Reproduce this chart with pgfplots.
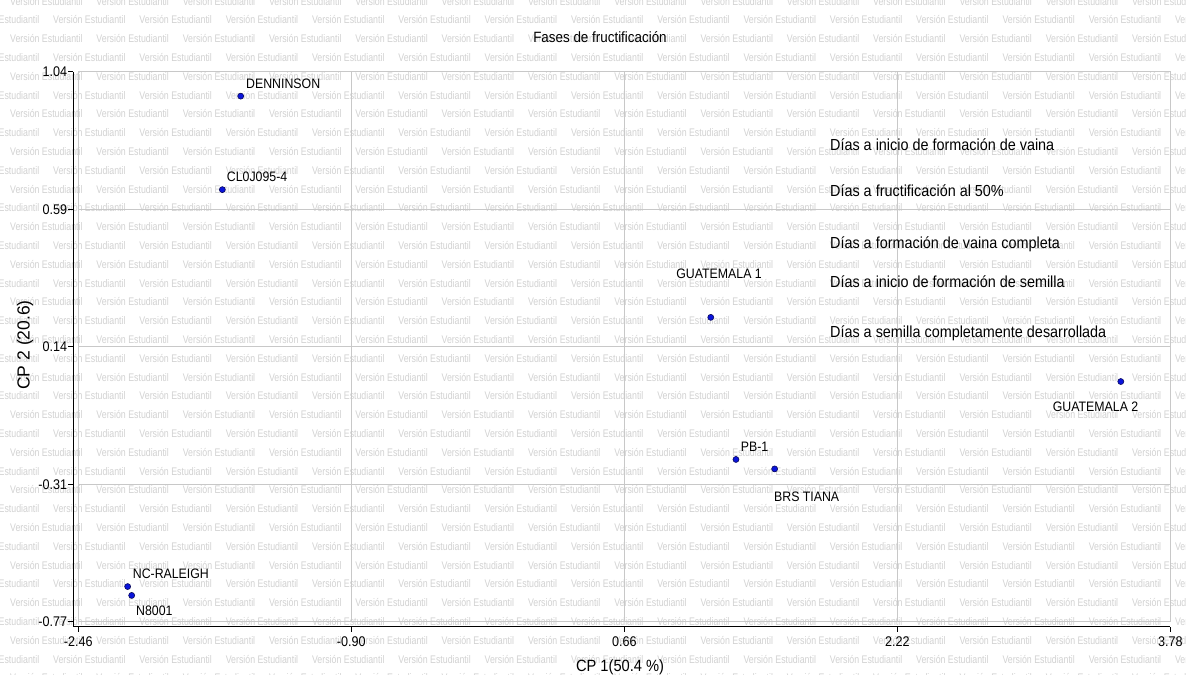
\documentclass[border=0pt]{standalone}
\usepackage{pgfplots}
\pgfplotsset{compat=1.18}
\usepackage{fontspec}
\setmainfont{Liberation Sans}
\newfontfamily\nar{Liberation Sans}[FakeStretch=0.9]
\newfontfamily\wmf{Liberation Sans}[FakeStretch=0.8]
\definecolor{wmgray}{RGB}{210,210,210}
\definecolor{gridgray}{RGB}{200,200,200}
\definecolor{markblue}{RGB}{10,20,220}
\definecolor{markedge}{RGB}{10,10,90}
\begin{document}
\begin{tikzpicture}
\useasboundingbox (0bp,0bp) rectangle (1186bp,675bp);
\fill[white] (0bp,0bp) rectangle (1186bp,675bp);
% watermark
\begin{scope}
\clip (0bp,0bp) rectangle (1186bp,675bp);
\foreach \r in {-1,...,35}{
  \pgfmathsetmacro{\yy}{655-18.8*\r}
  \pgfmathsetmacro{\xo}{mod(\r+2,2)==1 ? 10 : 53}
  \foreach \k in {-1,...,13}{
    \node[anchor=west, inner sep=0, text=wmgray, font=\wmf\fontsize{11bp}{13bp}\selectfont] at ({(\xo+86.3*\k)*1bp},{\yy*1bp}) {Versión Estudiantil};
  }
}
\end{scope}
% title
\node[font=\nar\fontsize{14.9bp}{17bp}\selectfont, anchor=center, inner sep=0] at (600bp,638.3bp) {Fases de fructificación};
% main axis: frame, grid, data
\begin{axis}[
  at={(78.3bp,53.3bp)}, anchor=south west,
  width=1092bp, height=550bp, scale only axis,
  xmin=-2.46, xmax=3.78, ymin=-0.76, ymax=1.04,
  xtick={-2.46,-0.90,0.66,2.22,3.78},
  ytick={-0.76,-0.31,0.14,0.59,1.04},
  xticklabels={,,,,}, yticklabels={,,,,},
  major tick length=0, tick style={draw=none},
  grid=major, grid style={line width=0.8bp, color=gridgray},
  axis line style={gridgray, line width=0.8bp},
  clip=false,
]
\addplot[only marks, mark=*, mark size=3bp, mark options={fill=markblue, draw=markedge, line width=0.6bp}] coordinates {
  (-1.532,0.960) (-1.637,0.654) (1.154,0.236) (3.497,0.026)
  (1.298,-0.229) (1.519,-0.260) (-2.178,-0.645) (-2.155,-0.674)
};
\begin{scope}[every node/.style={font=\nar\fontsize{13.7bp}{16bp}\selectfont, inner sep=0}]
\node[anchor=base west, xshift=5.3bp, yshift=8.1bp] at (axis cs:-1.532,0.960) {DENNINSON};
\node[anchor=base west, xshift=4.4bp, yshift=8.1bp] at (axis cs:-1.637,0.654) {CL0J095-4};
\node[anchor=base, xshift=8.3bp, yshift=38.4bp] at (axis cs:1.154,0.236) {GUATEMALA 1};
\node[anchor=base, xshift=-25.2bp, yshift=-29.9bp] at (axis cs:3.497,0.026) {GUATEMALA 2};
\node[anchor=base west, xshift=4.7bp, yshift=7.7bp] at (axis cs:1.298,-0.229) {PB-1};
\node[anchor=base west, xshift=-0.7bp, yshift=-32.6bp] at (axis cs:1.519,-0.260) {BRS TIANA};
\node[anchor=base west, xshift=5bp, yshift=8.5bp] at (axis cs:-2.178,-0.645) {NC-RALEIGH};
\node[anchor=base west, xshift=4.3bp, yshift=-20.3bp] at (axis cs:-2.155,-0.674) {N8001};
\end{scope}
\begin{scope}[every node/.style={font=\nar\fontsize{16bp}{19bp}\selectfont, inner sep=0, anchor=base west}]
\node at (axis cs:1.835,0.782) {Días a inicio de formación de vaina};
\node at (axis cs:1.835,0.633) {Días a fructificación al 50\%};
\node at (axis cs:1.835,0.460) {Días a formación de vaina completa};
\node at (axis cs:1.835,0.335) {Días a inicio de formación de semilla};
\node at (axis cs:1.835,0.171) {Días a semilla completamente desarrollada};
\end{scope}
\end{axis}
% black axis lines with ticks and labels
\begin{axis}[
  at={(73.3bp,48.3bp)}, anchor=south west,
  width=1097bp, height=555bp, scale only axis,
  xmin=-2.48857, xmax=3.78, ymin=-0.77636, ymax=1.04,
  axis lines=left,
  axis line style={-, black, line width=1bp},
  xtick={-2.46,-0.90,0.66,2.22,3.78},
  ytick={-0.76,-0.31,0.14,0.59,1.04},
  xticklabels={-2.46,-0.90,0.66,2.22,3.78},
  yticklabels={-0.77,-0.31,0.14,0.59,1.04},
  tick align=outside, major tick length=5bp,
  tick style={black, line width=0.8bp},
  ticklabel style={font=\nar\fontsize{14bp}{16bp}\selectfont},
  yticklabel style={inner sep=1bp},
  xticklabel style={inner sep=1bp, yshift=-4bp},
  xlabel={CP 1(50.4 \%)},
  ylabel={CP 2 (20.6)},
  every axis x label/.style={at={(axis description cs:0.4984,-0.0726)}, anchor=center, font=\nar\fontsize{16.3bp}{19bp}\selectfont, inner sep=0},
  every axis y label/.style={at={(axis description cs:-0.044,0.5076)}, rotate=90, anchor=center, font=\fontsize{17.5bp}{20bp}\selectfont, inner sep=0},
]
\end{axis}
\end{tikzpicture}
\end{document}
